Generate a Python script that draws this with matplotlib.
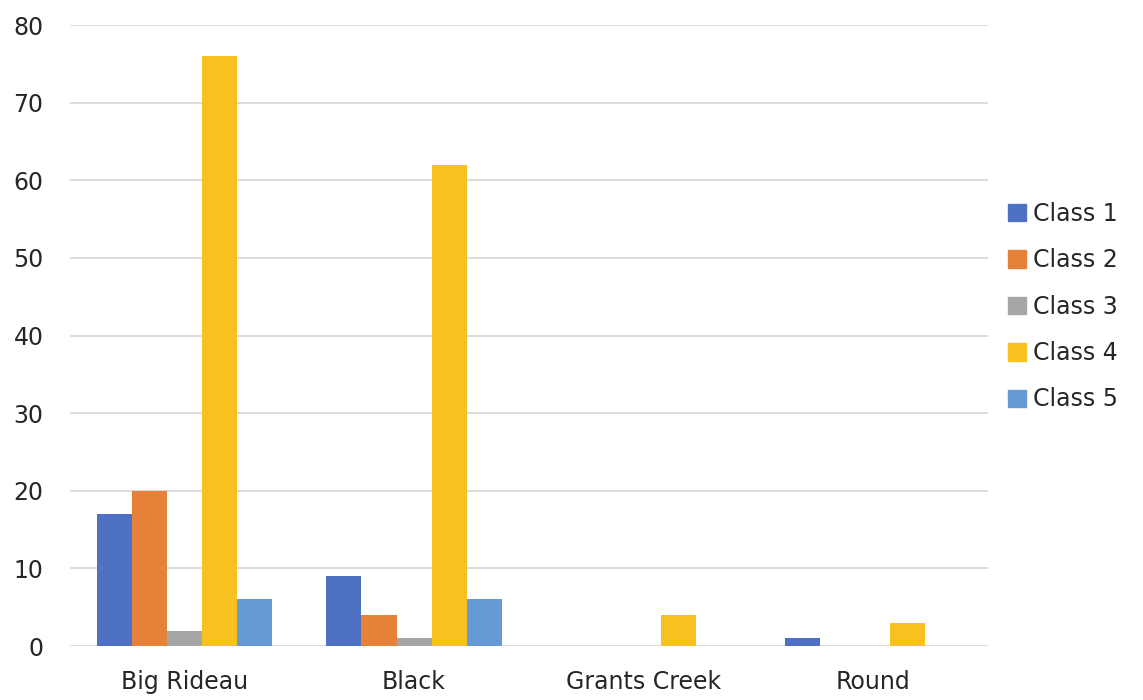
import numpy as np
import matplotlib.pyplot as plt
from matplotlib.patches import Patch

plt.rcParams['font.family'] = ['DejaVu Sans']

lakes = ["Big Rideau", "Black", "Grants Creek", "Round"]
class_names = ["Class 1", "Class 2", "Class 3", "Class 4", "Class 5"]
class_1 = [17, 9, 0, 1]
class_2 = [20, 4, 0, 0]
class_3 = [2, 1, 0, 0]
class_4 = [76, 62, 4, 3]
class_5 = [6, 6, 0, 0]
colors = ['#4f71c4', '#e6813a', '#a6a6a6', '#f8c122', '#659ad4']

series = [class_1, class_2, class_3, class_4, class_5]

fig = plt.figure(figsize=(11.43, 7), dpi=100)
ax = fig.add_axes([0.0612, 0.0771, 0.8028, 0.887])

x = np.arange(len(lakes))
w = 0.153
for i, (vals, c) in enumerate(zip(series, colors)):
    ax.bar(x + (i - 2) * w, vals, width=w, color=c, zorder=3)

ax.set_xlim(-0.5, len(lakes) - 0.5)
ax.set_ylim(0, 80)
ax.set_yticks(range(0, 81, 10))
ax.set_xticks(x)
ax.set_xticklabels(lakes)
ax.grid(axis='y', color='#d9d9d9', linewidth=1.3, zorder=0)
for s in ax.spines.values():
    s.set_visible(False)
ax.tick_params(axis='both', length=0, labelsize=17, colors='#262626')
ax.tick_params(axis='y', pad=19)
ax.tick_params(axis='x', pad=17)

handles = [Patch(color=c) for c in colors]
fig.legend(handles, class_names, loc='center left', bbox_to_anchor=(0.874, 0.562),
           frameon=False, fontsize=17, handlelength=0.76, handleheight=0.76,
           handletextpad=0.3, labelspacing=0.95, borderaxespad=0,
           labelcolor='#262626')

fig.savefig('out.png', dpi=100)
